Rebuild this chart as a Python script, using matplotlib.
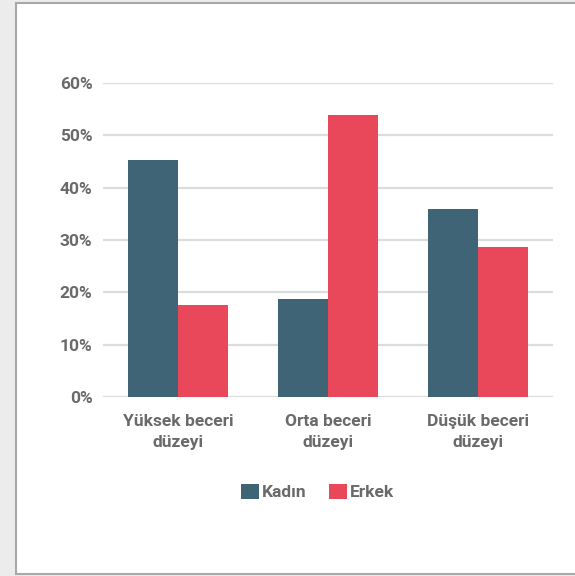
import matplotlib
matplotlib.use("Agg")
import matplotlib.pyplot as plt
from matplotlib.patches import Rectangle
import numpy as np

categories = ["Yüksek beceri\ndüzeyi", "Orta beceri\ndüzeyi", "Düşük beceri\ndüzeyi"]
kadin = [45.3, 18.7, 35.9]
erkek = [17.6, 53.9, 28.6]
series_names = ["Kadın", "Erkek"]
yticks = [0, 10, 20, 30, 40, 50, 60]
ytick_labels = ["0%", "10%", "20%", "30%", "40%", "50%", "60%"]

c_kadin = "#3e6475"
c_erkek = "#e8485a"
text_c = "#6a6a6a"
font = ["Roboto", "DejaVu Sans"]
fs = 12.5

fig = plt.figure(figsize=(5.75, 5.76), dpi=100)
fig.patch.set_facecolor("#ececec")
fig.patches.append(Rectangle((16/575, 2/576), 1.0, 571/576, transform=fig.transFigure,
                             facecolor="white", edgecolor="#a8a8a8", linewidth=1.5, zorder=-5))

ax = fig.add_axes([103/575, 1-397/576, (553-103)/575, (397-83)/576])
ax.set_facecolor("none")
x = np.arange(len(categories))
w = 1/3
ax.bar(x - w/2, kadin, width=w, color=c_kadin, label=series_names[0], zorder=3)
ax.bar(x + w/2, erkek, width=w, color=c_erkek, label=series_names[1], zorder=3)

ax.set_xlim(-0.5, 2.5)
ax.set_ylim(0, 60)
ax.set_yticks(yticks)
ax.set_yticklabels(ytick_labels)
ax.yaxis.grid(True, color="#dcdcdc", linewidth=1.6, zorder=0)
ax.set_axisbelow(True)
for s in ax.spines.values():
    s.set_visible(False)
ax.tick_params(axis="both", length=0, colors=text_c)
ax.tick_params(axis="y", pad=7.5)
ax.tick_params(axis="x", pad=12)
ax.set_xticks(x)
ax.set_xticklabels(categories, linespacing=1.55)
for lab in ax.get_xticklabels() + ax.get_yticklabels():
    lab.set_fontfamily(font)
    lab.set_fontweight("bold")
    lab.set_fontsize(fs)
    lab.set_color(text_c)

leg = ax.legend(loc="center", bbox_to_anchor=(318/575, 1-492/576), bbox_transform=fig.transFigure,
                ncol=2, frameon=False, handlelength=1.0, handleheight=1.0, handletextpad=0.2,
                columnspacing=1.3, prop={"family": font, "weight": "bold", "size": fs})
for t in leg.get_texts():
    t.set_color(text_c)

fig.savefig("out.png", dpi=100, facecolor=fig.get_facecolor())
